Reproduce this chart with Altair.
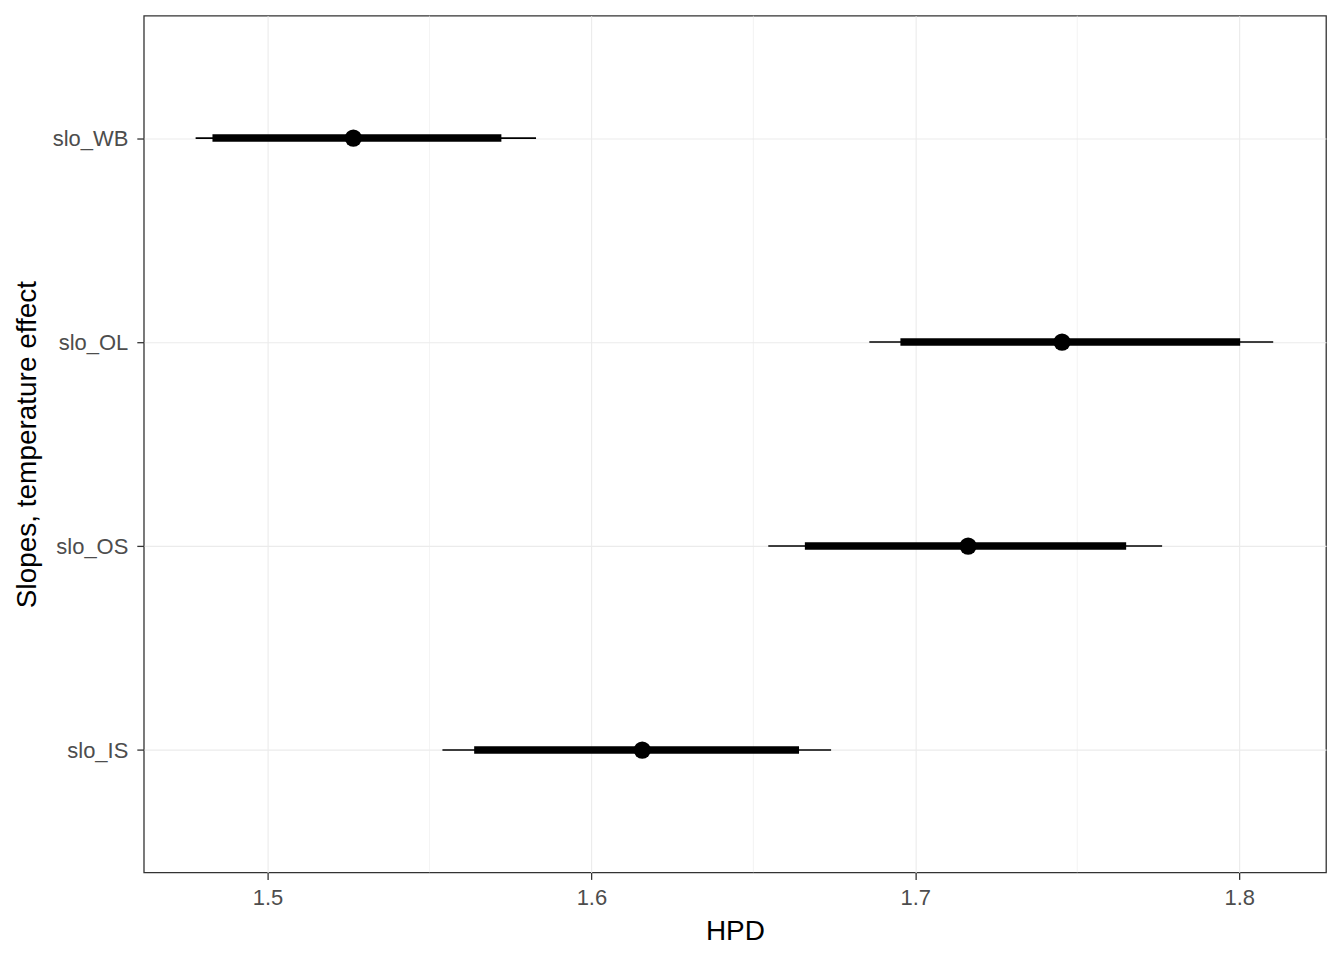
import altair as alt
import pandas as pd

params = ["slo_IS", "slo_OS", "slo_OL", "slo_WB"]
median = [1.6157, 1.7163, 1.7453, 1.5265]
outer_lo = [1.5540, 1.6546, 1.6858, 1.4778]
outer_hi = [1.6740, 1.7762, 1.8105, 1.5829]
inner_lo = [1.5638, 1.6659, 1.6954, 1.4830]
inner_hi = [1.6641, 1.7651, 1.8003, 1.5722]
major_ticks = [1.5, 1.6, 1.7, 1.8]
minor_breaks = [1.55, 1.65, 1.75]
y_order = ["slo_WB", "slo_OL", "slo_OS", "slo_IS"]

df = pd.DataFrame({
    "param": params, "median": median,
    "olo": outer_lo, "ohi": outer_hi,
    "ilo": inner_lo, "ihi": inner_hi,
})
minor_df = pd.DataFrame({"m": minor_breaks})

W, H = 1184, 858
xscale = alt.Scale(domain=[1.4618, 1.8268], nice=False, zero=False)
yscale = alt.Scale(type="point", domain=y_order, padding=0.6)

xaxis = alt.Axis(values=major_ticks, format=".1f", title="HPD", grid=True,
                 gridColor="#EBEBEB", gridWidth=1.1, domain=False,
                 tickColor="#333333", tickSize=7, tickWidth=1.3,
                 labelFont="Liberation Sans", labelFontSize=22, labelColor="#4D4D4D",
                 labelPadding=8, titleFont="Liberation Sans", titleFontSize=28,
                 titleFontWeight="normal", titleColor="#000000", titlePadding=9)
yaxis = alt.Axis(title="Slopes, temperature effect", grid=True,
                 gridColor="#EBEBEB", gridWidth=1.1, domain=False,
                 tickColor="#333333", tickSize=7, tickWidth=1.3,
                 labelFont="Liberation Sans", labelFontSize=22, labelColor="#4D4D4D",
                 labelPadding=9, titleFont="Liberation Sans", titleFontSize=28,
                 titleFontWeight="normal", titleColor="#000000", titlePadding=11)

minor = alt.Chart(minor_df).mark_rule(color="#EBEBEB", strokeWidth=0.6).encode(
    x=alt.X("m:Q", scale=xscale, axis=xaxis)
)

base = alt.Chart(df)
outer = base.mark_rule(color="black", strokeWidth=1.6).encode(
    x=alt.X("olo:Q", scale=xscale, axis=xaxis),
    x2="ohi:Q",
    y=alt.Y("param:N", scale=yscale, axis=yaxis),
)
inner = base.mark_rule(color="black", strokeWidth=7.5).encode(
    x=alt.X("ilo:Q", scale=xscale, axis=xaxis),
    x2="ihi:Q",
    y=alt.Y("param:N", scale=yscale, axis=yaxis),
)
pts = base.mark_point(filled=True, color="black", size=300, opacity=1, shape="circle").encode(
    x=alt.X("median:Q", scale=xscale, axis=xaxis),
    y=alt.Y("param:N", scale=yscale, axis=yaxis),
)

chart = alt.layer(minor, outer, inner, pts).properties(
    width=W, height=H,
    autosize=alt.AutoSizeParams(type="none"),
    padding={"left": 136, "top": 7, "right": 10, "bottom": 80},
).configure(background="white").configure_view(stroke="#333333", strokeWidth=1.3, fill="white")

chart.save("out.html", embed_options={"renderer": "svg", "actions": False})
